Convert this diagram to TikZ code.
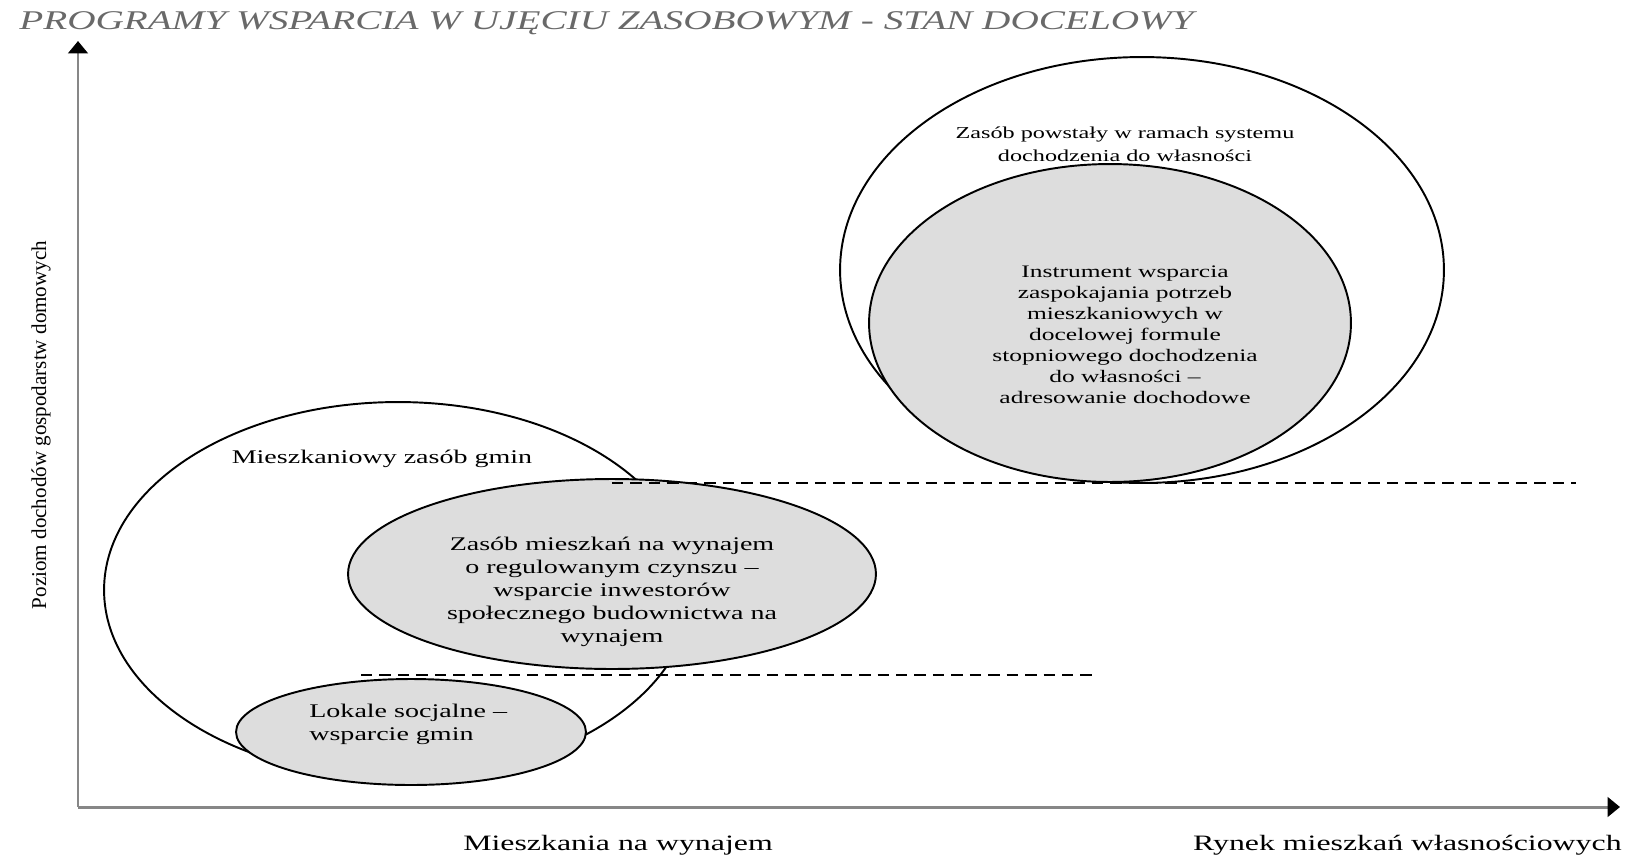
\documentclass[tikz,border=0pt]{standalone}
\usepackage{fontspec}
\setmainfont{Liberation Serif}[FakeStretch=1.45]
\newfontfamily\pionfont{Liberation Serif}
\usetikzlibrary{arrows.meta,shapes.geometric}
\definecolor{wypelnienie}{RGB}{221,221,221}
\definecolor{osie}{RGB}{135,135,135}
\definecolor{tytul}{RGB}{105,105,105}

\begin{document}
\begin{tikzpicture}[x=0.02cm,y=-0.02cm,font=\fontsize{11}{13}\selectfont,
 zasob/.style={draw,ellipse,line width=1.1pt,inner sep=0pt},
 szary/.style={zasob,fill=wypelnienie},
 poziom/.style={line width=1pt,dash pattern=on 6.5pt off 4pt},
 opis/.style={align=center,inner sep=0pt}]
 \useasboundingbox (0,0) rectangle (1626,859);
 % osie
 \coordinate (poczatek) at (78,807);\coordinate (gora) at (78,41);\coordinate (prawo) at (1620,807);
 \draw[osie,line width=1.7pt,-{Triangle[length=7pt,width=11pt,color=black]}] (poczatek)--(gora);
 \draw[osie,line width=1.7pt,-{Triangle[length=7pt,width=11pt,color=black]}] (poczatek)--(prawo);
 \node[anchor=west,inner sep=0pt,text=tytul,font=\fontsize{15.4}{17}\selectfont\itshape] (tytul) at (19,23) {PROGRAMY WSPARCIA W UJĘCIU ZASOBOWYM - STAN DOCELOWY};
 % zasoby
 \node[zasob,minimum width=12.08cm,minimum height=8.52cm] (wlasnosc) at (1142,270) {};
 \node[szary,minimum width=9.64cm,minimum height=6.36cm] (instrument) at (1110,323) {};
 \node[zasob,minimum width=11.76cm,minimum height=7.52cm] (gmina) at (398,590) {};
 \node[szary,minimum width=10.56cm,minimum height=3.8cm] (wynajem) at (612,574) {};
 \node[szary,minimum width=7cm,minimum height=2.12cm] (socjalne) at (411,732) {};
 % progi dochodowe
 \coordinate (koniecA) at (1576,483);\coordinate (poczB) at (361,675);\coordinate (koniecB) at (1097,675);
 \draw[poziom] (wynajem.north |- instrument.south) -- (koniecA |- instrument.south);
 \draw[poziom] (poczB) -- (koniecB);
 % opisy
 \node[opis,font=\fontsize{9.5}{13}\selectfont] (tWlasnosc) at (1125,144) {Zasób powstały w ramach systemu\\dochodzenia do własności};
 \node[opis,font=\fontsize{10}{12}\selectfont] (tInstrument) at (1125,335) {Instrument wsparcia\\zaspokajania potrzeb\\mieszkaniowych w\\docelowej formule\\stopniowego dochodzenia\\do własności –\\adresowanie dochodowe};
 \node[opis] (tGmina) at (382,459) {Mieszkaniowy zasób gmin};
 \node[opis] (tWynajem) at (612,592) {Zasób mieszkań na wynajem\\o regulowanym czynszu –\\wsparcie inwestorów\\społecznego budownictwa na\\wynajem};
 \node[opis,anchor=west,align=left] (tSocjalne) at (309,724) {Lokale socjalne –\\wsparcie gmin};
 \node[opis,rotate=90,font=\pionfont\fontsize{12}{14}\selectfont] (tDochody) at (41,425) {Poziom dochodów gospodarstw domowych};
 \node[opis,font=\fontsize{12.5}{14}\selectfont] (tNajem) at (618,845) {Mieszkania na wynajem};
 \node[opis,anchor=east,font=\fontsize{12.5}{14}\selectfont] (tRynek) at (1622,845) {Rynek mieszkań własnościowych};
\end{tikzpicture}
\end{document}
